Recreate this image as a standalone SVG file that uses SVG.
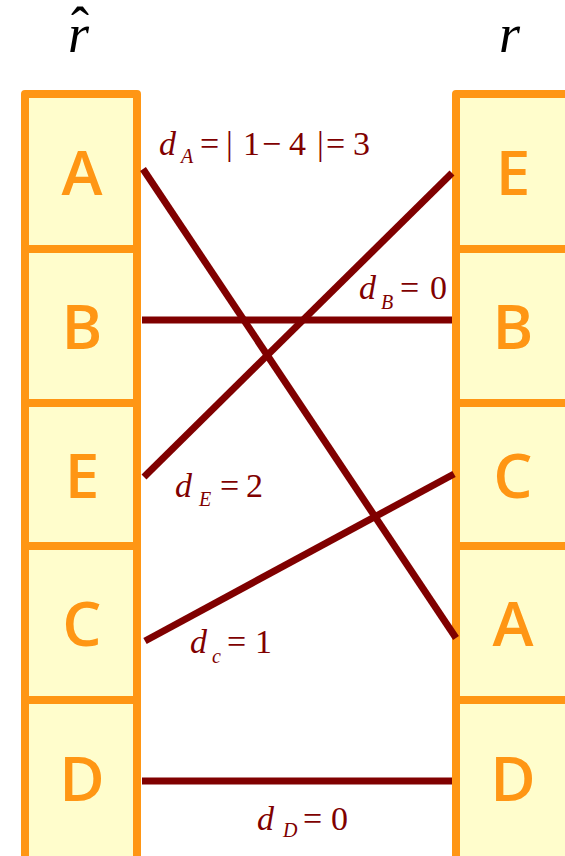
<svg xmlns="http://www.w3.org/2000/svg" width="565" height="856" viewBox="0 0 565 856">
<rect width="565" height="856" fill="#fff"/>
<g id="titles" fill="#000">
<text font-family="Liberation Serif" font-style="italic" font-size="54" x="68" y="52">r</text>
<text font-family="Liberation Serif" font-size="54" text-anchor="middle" x="80" y="45">ˆ</text>
<text font-family="Liberation Serif" font-style="italic" font-size="54" x="499" y="52">r</text>
</g>
<g id="cells" fill="#FFFDCC" stroke="#FF9614" stroke-width="8" stroke-linejoin="round">
<g id="left-A"><rect x="25" y="94" width="112" height="155"/><text font-family="Open Sans" font-weight="600" font-size="62" fill="#FF9614" stroke="none" text-anchor="middle" x="82" y="195">A</text></g>
<g id="left-B"><rect x="25" y="249" width="112" height="154"/><text font-family="Open Sans" font-weight="600" font-size="62" fill="#FF9614" stroke="none" text-anchor="middle" x="82" y="349">B</text></g>
<g id="left-E"><rect x="25" y="403" width="112" height="143"/><text font-family="Open Sans" font-weight="600" font-size="62" fill="#FF9614" stroke="none" text-anchor="middle" x="82" y="498">E</text></g>
<g id="left-C"><rect x="25" y="546" width="112" height="154"/><text font-family="Open Sans" font-weight="600" font-size="62" fill="#FF9614" stroke="none" text-anchor="middle" x="82" y="646">C</text></g>
<g id="left-D"><rect x="25" y="700" width="112" height="170"/><text font-family="Open Sans" font-weight="600" font-size="62" fill="#FF9614" stroke="none" text-anchor="middle" x="82" y="801">D</text></g>
<g id="right-E"><rect x="456" y="94" width="114" height="155"/><text font-family="Open Sans" font-weight="600" font-size="62" fill="#FF9614" stroke="none" text-anchor="middle" x="513" y="195">E</text></g>
<g id="right-B"><rect x="456" y="249" width="114" height="154"/><text font-family="Open Sans" font-weight="600" font-size="62" fill="#FF9614" stroke="none" text-anchor="middle" x="513" y="349">B</text></g>
<g id="right-C"><rect x="456" y="403" width="114" height="143"/><text font-family="Open Sans" font-weight="600" font-size="62" fill="#FF9614" stroke="none" text-anchor="middle" x="513" y="498">C</text></g>
<g id="right-A"><rect x="456" y="546" width="114" height="154"/><text font-family="Open Sans" font-weight="600" font-size="62" fill="#FF9614" stroke="none" text-anchor="middle" x="513" y="646">A</text></g>
<g id="right-D"><rect x="456" y="700" width="114" height="170"/><text font-family="Open Sans" font-weight="600" font-size="62" fill="#FF9614" stroke="none" text-anchor="middle" x="513" y="801">D</text></g>
</g>
<g id="connectors" stroke="#800000" stroke-width="7" fill="none">
<line x1="143" y1="169" x2="456" y2="638"/>
<line x1="142" y1="320" x2="452" y2="320"/>
<line x1="144" y1="477" x2="452" y2="173"/>
<line x1="145" y1="641" x2="454" y2="474"/>
<line x1="142" y1="781" x2="452" y2="781"/>
</g>
<g id="labels" fill="#800000">
<text font-family="Liberation Serif" font-size="34" y="155"><tspan font-style="italic" x="159">d</tspan><tspan font-style="italic" font-size="20" x="181" y="163">A</tspan><tspan x="200" y="155">=</tspan><tspan x="226">|</tspan><tspan x="243">1</tspan><tspan x="262">−</tspan><tspan x="289">4</tspan><tspan x="317">|</tspan><tspan x="326">=</tspan><tspan x="353">3</tspan></text>
<text font-family="Liberation Serif" font-size="34" y="299"><tspan font-style="italic" x="359">d</tspan><tspan font-style="italic" font-size="20" x="381" y="309">B</tspan><tspan x="400" y="299">=</tspan><tspan x="430">0</tspan></text>
<text font-family="Liberation Serif" font-size="34" y="497"><tspan font-style="italic" x="175">d</tspan><tspan font-style="italic" font-size="20" x="199" y="506">E</tspan><tspan x="220" y="497">=</tspan><tspan x="246">2</tspan></text>
<text font-family="Liberation Serif" font-size="34" y="653"><tspan font-style="italic" x="190">d</tspan><tspan font-style="italic" font-size="20" x="212" y="663">c</tspan><tspan x="227" y="653">=</tspan><tspan x="255">1</tspan></text>
<text font-family="Liberation Serif" font-size="34" y="830"><tspan font-style="italic" x="257">d</tspan><tspan font-style="italic" font-size="20" x="283" y="837">D</tspan><tspan x="303" y="830">=</tspan><tspan x="331">0</tspan></text>
</g>
</svg>
